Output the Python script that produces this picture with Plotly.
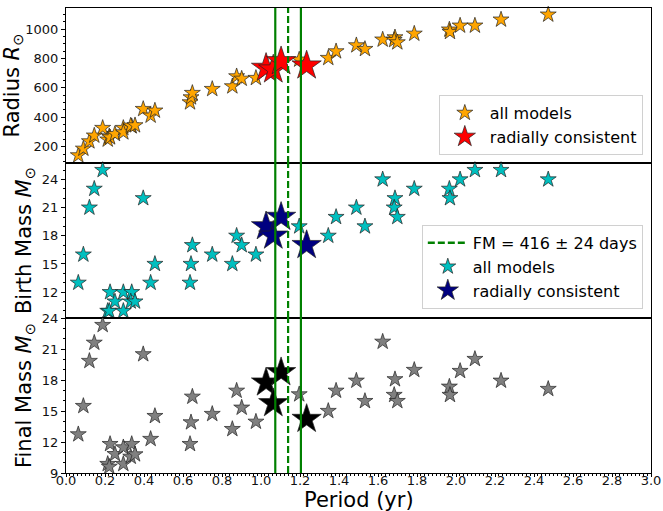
import plotly.graph_objects as go
from plotly.subplots import make_subplots

# Stellar models: pulsation period (yr), radius (R_sun), birth and final mass (M_sun)
period = [0.063, 0.089, 0.120, 0.145, 0.188, 0.214, 0.222, 0.226, 0.251, 0.294,
          0.294, 0.337, 0.332, 0.354, 0.396, 0.434, 0.456, 0.636, 0.641, 0.648,
          0.750, 0.853, 0.875, 0.901, 0.974, 1.196, 1.345, 1.385, 1.489, 1.533,
          1.624, 1.687, 1.683, 1.699, 1.786, 1.966, 1.969, 2.021, 2.097, 2.231,
          2.473]
radius = [141, 186, 236, 275, 327, 248, 270, 263, 286, 327,
          297, 338, 343, 345, 456, 411, 445, 501, 535, 565,
          592, 610, 678, 662, 667, 792, 803, 848, 889, 864,
          928, 943, 925, 909, 968, 996, 980, 1023, 1023, 1064,
          1098]
birth_mass = [13, 16, 21, 23, 25, 10, 10, 12, 11, 12,
              10, 12, 11, 11, 22, 13, 15, 13, 15, 17,
              16, 15, 18, 17, 16, 19, 18, 20, 21, 19,
              24, 22, 21, 20, 23, 23, 22, 24, 25, 25,
              24]
final_mass = [12.74, 15.48, 19.84, 21.6, 23.32, 9.87, 9.6, 11.8, 10.83, 11.48,
              9.87, 11.8, 10.57, 10.8, 20.49, 12.29, 14.51, 11.8, 13.9, 16.38,
              14.71, 13.25, 16.96, 15.32, 13.96, 16.61, 15.0, 16.96, 17.93, 15.96,
              21.7, 18.07, 16.55, 15.96, 18.97, 17.35, 16.55, 18.87, 20.03, 17.93,
              17.13]

# Models whose radius agrees with the observed one
rc_period = [1.026, 1.063, 1.103, 1.234]
rc_radius = [735, 724, 780, 751]
rc_birth_mass = [19, 18, 20, 17]
rc_final_mass = [17.74, 15.74, 18.74, 14.22]

# Fundamental-mode period and uncertainty
fm_days = 416
fm_err_days = 24
days_per_year = 365.25

fm_yr = fm_days / days_per_year
fm_lo = (fm_days - fm_err_days) / days_per_year
fm_hi = (fm_days + fm_err_days) / days_per_year

FONT = "DejaVu Sans"
GREEN = "#008000"

fig = make_subplots(rows=3, cols=1, shared_xaxes=True, vertical_spacing=0)

panels = [
    (radius, rc_radius, "#FFA500", "#FF0000", "legend"),
    (birth_mass, rc_birth_mass, "#00BFBF", "#000080", "legend2"),
    (final_mass, rc_final_mass, "#808080", "#000000", None),
]

for row, (vals, rc_vals, c_all, c_rc, leg) in enumerate(panels, start=1):
    show = leg is not None
    if row == 2:
        # legend entry for the period lines
        fig.add_trace(go.Scatter(
            x=[None], y=[None], mode="lines", name="FM = 416 ± 24 days",
            line=dict(color=GREEN, width=2.5, dash="7px,3px"),
            legend=leg, showlegend=True), row=row, col=1)
    fig.add_trace(go.Scatter(
        x=period, y=vals, mode="markers", name="all models",
        marker=dict(symbol="star", size=12, color=c_all,
                    line=dict(color="#222222", width=0.7)),
        cliponaxis=False, legend=leg if show else "legend",
        showlegend=show), row=row, col=1)
    fig.add_trace(go.Scatter(
        x=rc_period, y=rc_vals, mode="markers", name="radially consistent",
        marker=dict(symbol="star", size=22, color=c_rc,
                    line=dict(color="#222222", width=0.7)),
        cliponaxis=False, legend=leg if show else "legend",
        showlegend=show), row=row, col=1)

    yref = "y domain" if row == 1 else f"y{row} domain"
    xref = "x" if row == 1 else f"x{row}"
    for xv, dash in [(fm_lo, "solid"), (fm_yr, "7px,3px"), (fm_hi, "solid")]:
        fig.add_shape(type="line", x0=xv, x1=xv, y0=0, y1=1, xref=xref,
                      yref=yref, layer="above",
                      line=dict(color=GREEN, width=2.2, dash=dash))

axis_common = dict(showline=True, linecolor="black", linewidth=1, mirror=True,
                   showgrid=False, zeroline=False, ticks="outside", ticklen=4,
                   automargin=True,
                   tickcolor="black", tickfont=dict(family=FONT, size=13,
                                                    color="#111111"))

for r in (1, 2, 3):
    fig.update_xaxes(range=[0, 3], dtick=0.2, tick0=0, tickformat=".1f",
                     row=r, col=1, **axis_common)
fig.update_xaxes(ticks="", showticklabels=False, row=1, col=1)
fig.update_xaxes(ticks="", showticklabels=False, row=2, col=1)
fig.update_xaxes(row=3, col=1, ticklen=3, ticklabelstandoff=-8,
                 minor=dict(ticks="outside", dtick=0.02, ticklen=2,
                            tickcolor="black"))

# x-axis title placed just under the tick labels
fig.add_annotation(text="Period (yr)", x=0.5, y=-0.057, xref="paper",
                   yref="paper", xanchor="center", yanchor="middle",
                   showarrow=False,
                   font=dict(family=FONT, size=21, color="black"))

title_font = dict(family=FONT, size=21, color="black")
fig.update_yaxes(range=[89, 1143], tickvals=[200, 400, 600, 800, 1000],
                 minor=dict(ticks="outside", dtick=50, ticklen=2,
                            tickcolor="black"),
                 title=dict(text="Radius <i>R</i><sub>⊙</sub>", standoff=4,
                            font=title_font),
                 row=1, col=1, **axis_common)
fig.update_yaxes(range=[9.25, 25.75], tickvals=[12, 15, 18, 21, 24],
                 minor=dict(ticks="outside", dtick=1, ticklen=2,
                            tickcolor="black"),
                 title=dict(text="Birth Mass <i>M</i><sub>⊙</sub>", standoff=4,
                            font=title_font),
                 row=2, col=1, **axis_common)
fig.update_yaxes(range=[9, 24], tickvals=[9, 12, 15, 18, 21, 24],
                 minor=dict(ticks="outside", dtick=1, ticklen=2,
                            tickcolor="black"),
                 title=dict(text="Final Mass <i>M</i><sub>⊙</sub>", standoff=4,
                            font=title_font),
                 row=3, col=1, **axis_common)

legend_style = dict(bgcolor="rgba(255,255,255,0.85)", bordercolor="#d0d0d0",
                    borderwidth=1, font=dict(family=FONT, size=16,
                                             color="black"),
                    xanchor="right", yanchor="bottom", itemwidth=40,
                    tracegroupgap=2)

fig.update_layout(
    width=663, height=511,
    margin=dict(l=66, r=12, t=8, b=38, autoexpand=False),
    paper_bgcolor="white", plot_bgcolor="white",
    font=dict(family=FONT, color="black"),
    legend=dict(x=0.986, y=0.684, **legend_style),
    legend2=dict(x=0.986, y=0.353, **legend_style),
)

fig.write_html("out.html")
